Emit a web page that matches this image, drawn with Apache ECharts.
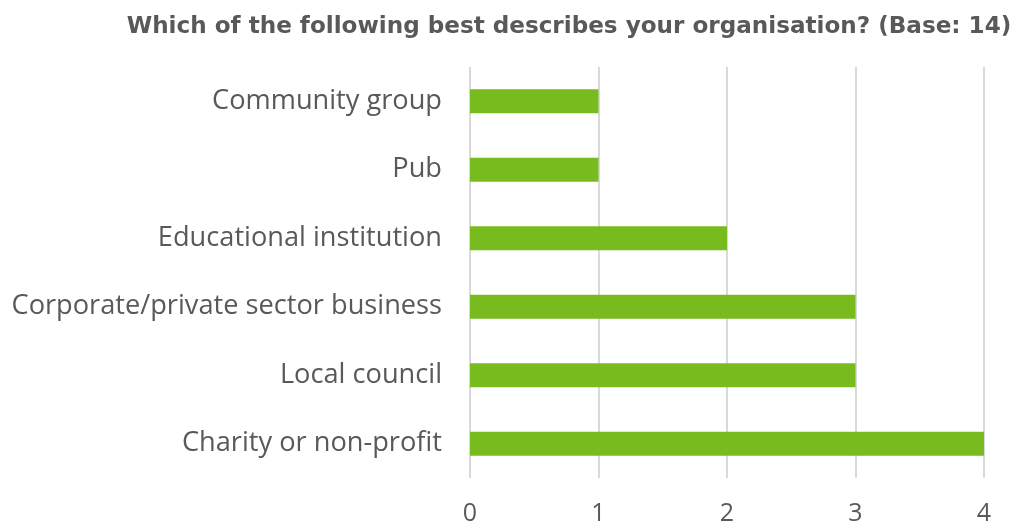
<!DOCTYPE html>
<html><head><meta charset="utf-8">
<script src="https://cdn.jsdelivr.net/npm/echarts@6/dist/echarts.min.js"></script>
<style>html,body{margin:0;padding:0;background:#fff}#c{width:1016px;height:529px}</style>
</head><body><div id="c"></div>
<script>
const categories = ["Charity or non-profit","Local council","Corporate/private sector business","Educational institution","Pub","Community group"];
const counts = [4,3,3,2,1,1];
const titleText = "Which of the following best describes your organisation? (Base: 14)";
const chart = echarts.init(document.getElementById('c'));
chart.setOption({
  animation:false,
  title:{text:titleText,left:564,top:10,textAlign:'center',textStyle:{fontFamily:'DejaVu Sans',fontWeight:'bold',fontSize:23.1,color:'#595959'}},
  grid:{left:470,right:32,top:67,bottom:51,containLabel:false},
  xAxis:{type:'value',min:0,max:4,interval:1,
    axisLine:{show:false},axisTick:{show:false},
    splitLine:{lineStyle:{color:'#d9d9d9',width:2}},
    axisLabel:{fontFamily:'Open Sans',fontSize:25,color:'#595959',margin:23}},
  yAxis:{type:'category',data:categories,
    axisLine:{show:false},axisTick:{show:false},
    axisLabel:{fontFamily:'Open Sans',fontSize:27.2,color:'#595959',margin:28}},
  series:[{type:'bar',data:counts,barWidth:24,itemStyle:{color:'#78BB1F'}}]
});
</script></body></html>
